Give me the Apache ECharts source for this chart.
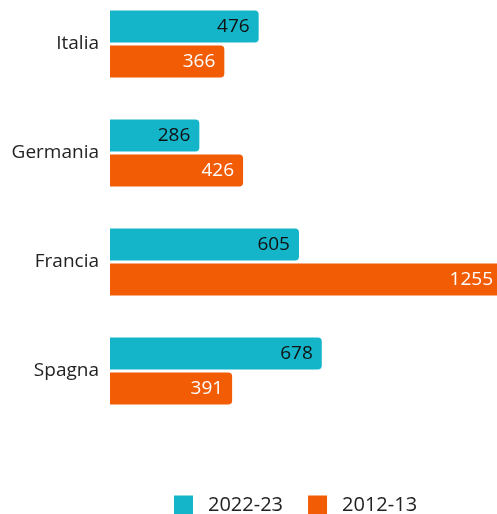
<!DOCTYPE html>
<html><head><meta charset="utf-8">
<script src="https://cdn.jsdelivr.net/npm/echarts@6/dist/echarts.min.js"></script>
<style>html,body{margin:0;padding:0;background:#fff}#c{width:497px;height:514px}</style>
</head><body><div id="c"></div>
<script>
const categories = ["Italia", "Germania", "Francia", "Spagna"];
const seriesNames = ["2022-23", "2012-13"];
const values2022 = [476, 286, 605, 678];
const values2012 = [366, 426, 1255, 391];

const FONT = "Open Sans";
const chart = echarts.init(document.getElementById('c'), null, {renderer: 'canvas'});
chart.setOption({
  animation: false,
  textStyle: {fontFamily: FONT},
  grid: {left: 110, width: 392, height: 436, bottom: 88.5, containLabel: false, outerBoundsMode: 'none'},
  legend: {
    top: 495, left: 174, itemWidth: 19, itemHeight: 19, itemGap: 25, padding: 0,
    icon: 'rect',
    textStyle: {fontSize: 20, lineHeight: 19, color: '#222', fontFamily: FONT, padding: [0, 0, 0, 10]},
    data: seriesNames
  },
  xAxis: {type: 'value', min: 0, max: 1255, show: false},
  yAxis: {
    type: 'category', data: categories, inverse: true,
    axisLine: {show: false}, axisTick: {show: false},
    axisLabel: {fontSize: 19, color: '#222', margin: 11, fontFamily: FONT}
  },
  series: [
    {name: seriesNames[0], type: 'bar', data: values2022, barWidth: 32, barGap: '10%',
     itemStyle: {color: '#14b5c9', borderRadius: [0, 4, 4, 0]},
     label: {show: true, position: 'insideRight', color: '#111', fontSize: 19, fontFamily: FONT, distance: 9}},
    {name: seriesNames[1], type: 'bar', data: values2012, barWidth: 32,
     itemStyle: {color: '#f25c05', borderRadius: [0, 4, 4, 0]},
     label: {show: true, position: 'insideRight', color: '#fff', fontSize: 19, fontFamily: FONT, distance: 9}}
  ]
});
</script></body></html>
